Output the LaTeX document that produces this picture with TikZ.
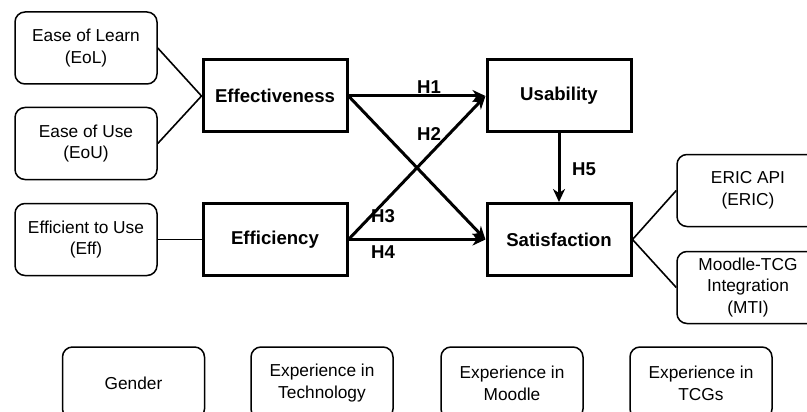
\documentclass[tikz,border=0pt]{standalone}
\usepackage{fontspec}
\setmainfont{Liberation Sans}
\usetikzlibrary{arrows.meta}

\tikzset{
  item/.style={draw, rounded corners=10pt, line width=1.5pt, minimum width=142pt,
    minimum height=72pt, align=center, font=\fontsize{17.3}{21.7}\selectfont},
  construct/.style={draw, line width=3pt, minimum width=144pt, minimum height=72pt,
    font=\bfseries\fontsize{18.6}{22}\selectfont},
  hyp/.style={font=\bfseries\fontsize{18.6}{22}\selectfont, inner sep=0pt},
  link/.style={line width=1.6pt},
  path/.style={line width=3pt, -{Stealth[length=13pt,width=12pt,inset=4pt]}}
}

\begin{document}
\begin{tikzpicture}[x=1pt,y=-1pt]
    \clip (0,0) rectangle (807,412);
    % \helpgrid{807}{412}
    % measurement items
    \node[item] (eol) at (86,48) {Ease of Learn\\(EoL)};
    \node[item] (eou) at (86,143.5) {Ease of Use\\(EoU)};
    \node[item] (eff) at (86,239.5) {Efficient to Use\\(Eff)};
    \node[item] (eric) at (748,190.5) {ERIC API\\(ERIC)};
    \node[item] (mti) at (748,287.5) {Moodle-TCG\\Integration\\(MTI)};

    % constructs
    \node[construct] (effect) at (275,96) {Effectiveness};
    \node[construct] (effic) at (275,239.5) {Efficiency};
    \node[construct] (usab) at (559,96) {Usability};
    \node[construct] (satis) at (559,239.5) {Satisfaction};

    % moderators
    \node[item] (gender) at (133.5,383) {Gender};
    \node[item] (exptech) at (322,383) {Experience in\\Technology};
    \node[item] (expmoodle) at (512,383) {Experience in\\Moodle};
    \node[item] (exptcg) at (701,383) {Experience in\\TCGs};

    \draw[link] (eol.east)--(effect.west);
    \draw[link] (eou.east)--(effect.west);
    \draw[link] (eff.east)--(effic.west);
    \draw[link] (satis.east)--(eric.west);
    \draw[link] (satis.east)--(mti.west);

    \draw[path] (effect.east)--(usab.west);
    \draw[path] (effect.east)--(satis.west);
    \draw[path] (effic.east)--(usab.west);
    \draw[path] (effic.east)--(satis.west);
    \draw[path] (usab.south)--(satis.north);

    \node[hyp] (h1) at (429,87) {H1};
    \node[hyp] (h2) at (429,134) {H2};
    \node[hyp] (h3) at (383,216) {H3};
    \node[hyp] (h4) at (383,252) {H4};
    \node[hyp] (h5) at (584,169) {H5};
\end{tikzpicture}
\end{document}
